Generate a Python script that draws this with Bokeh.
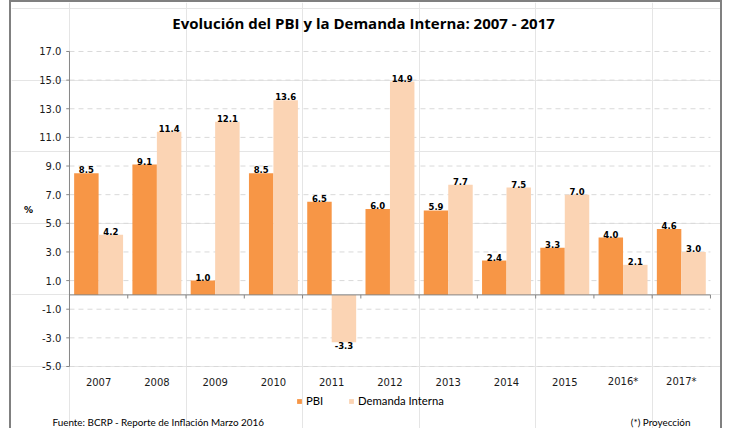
from bokeh.plotting import figure
from bokeh.models import (ColumnDataSource, Range1d, Label, Legend, LegendItem)
from bokeh.core.properties import value
from bokeh.embed import file_html
from bokeh.resources import INLINE

# ---- data ----
years = ["2007", "2008", "2009", "2010", "2011", "2012", "2013", "2014", "2015", "2016*", "2017*"]
pbi = [8.5, 9.1, 1.0, 8.5, 6.5, 6.0, 5.9, 2.4, 3.3, 4.0, 4.6]
demanda = [4.2, 11.4, 12.1, 13.6, -3.3, 14.9, 7.7, 7.5, 7.0, 2.1, 3.0]
y_ticks = [-5.0, -3.0, -1.0, 1.0, 3.0, 5.0, 7.0, 9.0, 11.0, 13.0, 15.0, 17.0]
series_names = ["PBI", "Demanda Interna"]
title_text = "Evolución  del PBI y la Demanda Interna: 2007 - 2017"
source_text = "Fuente: BCRP - Reporte de Inflación Marzo 2016"
note_text = "(*) Proyección"
y_unit = "%"

PBI_COLOR = "#F79646"
DI_COLOR = "#FBD4B4"
AXIS_COLOR = "#868686"
GRID_COLOR = "#D9D9D9"
BORDER = "2px solid #808080"

n = len(years)
y_min, y_max = y_ticks[0], y_ticks[-1]

# the frame covers the whole canvas; ranges chosen so that the chart area
# sits where the reference draws it
p = figure(width=713, height=428, output_backend="svg", toolbar_location=None,
           x_range=Range1d(-0.995, 11.241), y_range=Range1d(-9.47, 20.42),
           x_axis_location=None, y_axis_location=None,
           min_border=0)
p.styles = {"margin-left": "9px", "border-left": BORDER, "border-right": BORDER,
            "border-top": BORDER}
p.outline_line_color = None
p.background_fill_color = "white"
p.border_fill_color = "white"

idx = list(range(n))
src = ColumnDataSource(dict(
    c=[i + 0.5 for i in idx], year=years, pbi=pbi, dem=demanda,
    pbi_x=[i + 0.5 - 0.21 for i in idx], dem_x=[i + 0.5 + 0.21 for i in idx],
    pbi_lbl=[f"{v:.1f}" for v in pbi], dem_lbl=[f"{v:.1f}" for v in demanda],
    pbi_base=["bottom" if v >= 0 else "top" for v in pbi],
    dem_base=["bottom" if v >= 0 else "top" for v in demanda],
    edge=[i + 1 for i in idx],
))
tick_src = ColumnDataSource(dict(y=y_ticks, lbl=[f"{t:.1f}" for t in y_ticks]))

# grid lines
p.segment(x0=0, x1=n, y0="y", y1="y", source=tick_src, line_color=GRID_COLOR,
          line_dash="5 4", line_width=1)

# bars
r1 = p.vbar(x="pbi_x", top="pbi", bottom=0, width=0.42, source=src,
            fill_color=PBI_COLOR, line_color=None)
r2 = p.vbar(x="dem_x", top="dem", bottom=0, width=0.42, source=src,
            fill_color=DI_COLOR, line_color=None)

# value labels
lbl_kw = dict(text_font=value("DejaVu Sans"), text_font_size="8.5px", text_font_style="bold",
              text_color="#000000", text_align="center", source=src)
p.text(x="pbi_x", y="pbi", text="pbi_lbl", text_baseline="pbi_base", **lbl_kw)
p.text(x="dem_x", y="dem", text="dem_lbl", text_baseline="dem_base", **lbl_kw)

# y axis: line, ticks, labels
p.segment(x0=0, x1=0, y0=y_min, y1=y_max, line_color=AXIS_COLOR, line_width=1)
p.segment(x0=-0.055, x1=0, y0="y", y1="y", source=tick_src, line_color=AXIS_COLOR, line_width=1)
p.text(x=0, y="y", text="lbl", source=tick_src, x_offset=-8, text_align="right",
       text_baseline="middle", text_font=value("DejaVu Sans"), text_font_size="10px",
       text_color="#1a1a1a")

# zero line with category boundary ticks
p.segment(x0=0, x1=n, y0=0, y1=0, line_color=AXIS_COLOR, line_width=1)
p.segment(x0="edge", x1="edge", y0=0, y1=-0.25, source=src, line_color=AXIS_COLOR, line_width=1)

# category labels
p.text(x="c", y=y_min - 1.05, text="year", source=src, text_align="center",
       text_baseline="middle", text_font=value("DejaVu Sans"), text_font_size="10px",
       text_color="#1a1a1a")

# texts
p.add_layout(Label(x=5.08, y=19.02, text=title_text, text_align="center", text_baseline="middle",
                   text_font="Open Sans", text_font_size="15px", text_font_style="bold",
                   text_color="#000000"))
p.add_layout(Label(x=-0.704, y=5.96, text=y_unit, text_align="center", text_baseline="middle",
                   text_font="DejaVu Sans", text_font_size="9px", text_font_style="bold",
                   text_color="#000000"))
p.add_layout(Label(x=-0.292, y=-8.91, text=source_text, text_align="left", text_baseline="middle",
                   text_font="Lato", text_font_size="9.9px", text_color="#000000"))
p.add_layout(Label(x=10.657, y=-8.91, text=note_text, text_align="right", text_baseline="middle",
                   text_font="Lato", text_font_size="9.9px", text_color="#000000"))

legend = Legend(items=[LegendItem(label=series_names[0], renderers=[r1]),
                       LegendItem(label=series_names[1], renderers=[r2])],
                orientation="horizontal", location=(285, 23),
                glyph_width=6, glyph_height=6, label_standoff=4, spacing=22,
                padding=0, margin=0, border_line_color=None, background_fill_alpha=0,
                label_text_font="Lato", label_text_font_size="11.3px", label_text_color="#000000",
                label_height=12)
p.add_layout(legend, "center")

open("out.html", "w").write(file_html(p, INLINE))
